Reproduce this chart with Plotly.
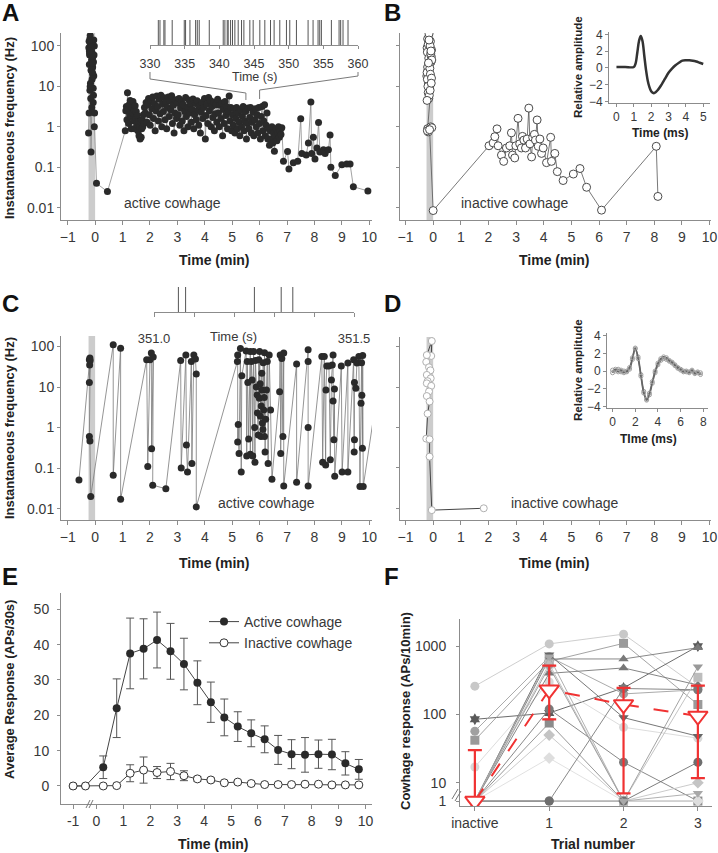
import math
import plotly.graph_objects as go

# ---------------- data ----------------
stim_window = [-0.24, 0.0]          # cowhage application period (min)
time_ticks = list(range(-1, 11))
log_ticks = [0.01, 0.1, 1, 10, 100]
log_labels = ["0.01", "0.1", "1", "10", "100"]

# Panel A: active cowhage, (time min, instantaneous frequency Hz)
A_burst = [(-0.24, 0.7), (-0.22, 2.2), (-0.20, 60), (-0.23, 90), (-0.19, 150), (-0.21, 35), (-0.17, 110),
           (-0.15, 25), (-0.18, 180), (-0.13, 45), (-0.16, 80), (-0.11, 15), (-0.14, 120), (-0.09, 30),
           (-0.12, 70), (-0.07, 9), (-0.10, 50), (-0.05, 140), (-0.08, 20), (-0.03, 100), (-0.06, 40),
           (-0.20, 65), (-0.17, 12), (-0.14, 85), (-0.11, 28), (-0.08, 55), (-0.05, 18), (-0.22, 130),
           (-0.19, 8), (-0.16, 5), (-0.13, 95), (-0.10, 22), (-0.07, 4), (-0.04, 60), (-0.21, 75),
           (-0.18, 10), (-0.15, 0.24), (-0.12, 3), (-0.09, 38), (-0.06, 6), (-0.03, 1.0), (-0.02, 2.2),
           (0.05, 0.04), (0.45, 0.025)]
A_resp = [(1.10, 0.8), (1.12, 2.5), (1.14, 3.2), (1.16, 1.5), (1.18, 7.0), (1.20, 2.8), (1.22, 1.2), (1.24, 3.5),
          (1.26, 2.0), (1.28, 4.5), (1.30, 1.8), (1.32, 0.9), (1.34, 3.0), (1.36, 2.2), (1.38, 4.2), (1.40, 1.4),
          (1.42, 2.6), (1.44, 0.9), (1.46, 3.3), (1.48, 1.7), (1.50, 2.4), (1.52, 1.1), (1.54, 1.9), (1.56, 0.8),
          (1.58, 1.3), (1.60, 0.6), (1.62, 1.0), (1.64, 0.5), (1.66, 1.4), (1.68, 0.55), (1.70, 0.9), (1.72, 1.5),
          (1.74, 1.0), (1.76, 2.0), (1.78, 1.2), (1.80, 3.0),
          (1.83, 2.2), (1.86, 4.0), (1.89, 1.3), (1.92, 3.5), (1.95, 5.0), (1.98, 2.0), (2.01, 1.1), (2.04, 4.5),
          (2.07, 2.8), (2.10, 5.5), (2.13, 1.6), (2.16, 3.8), (2.19, 0.8), (2.22, 2.5), (2.25, 5.8), (2.28, 3.2),
          (2.31, 1.4), (2.34, 4.8), (2.37, 2.1), (2.40, 6.0), (2.43, 1.0), (2.46, 3.6), (2.49, 2.4), (2.52, 5.2),
          (2.55, 1.5), (2.58, 4.1), (2.61, 0.9), (2.64, 3.0), (2.67, 5.5), (2.70, 1.8), (2.73, 4.4), (2.76, 2.6),
          (2.79, 5.9), (2.82, 1.2), (2.85, 3.4), (2.88, 0.7), (2.91, 2.2), (2.94, 4.7), (2.97, 1.6), (3.00, 3.9),
          (3.03, 2.0), (3.06, 5.0), (3.09, 1.1), (3.12, 2.9), (3.15, 4.3), (3.18, 1.4), (3.21, 3.5), (3.24, 0.8),
          (3.27, 2.4), (3.30, 5.3), (3.33, 1.8), (3.36, 3.1), (3.39, 1.0), (3.42, 4.6), (3.45, 2.2), (3.48, 3.7),
          (3.51, 1.3), (3.54, 2.7), (3.57, 4.9), (3.60, 0.9), (3.63, 2.0), (3.66, 3.8), (3.69, 1.5), (3.72, 4.4),
          (3.75, 2.6), (3.78, 1.1), (3.81, 3.3), (3.84, 0.7), (3.87, 2.3), (3.90, 4.0), (3.93, 1.6), (3.96, 3.0),
          (3.99, 5.0), (4.02, 0.5), (4.05, 1.9), (4.08, 3.6), (4.11, 1.2), (4.14, 5.3), (4.17, 2.5), (4.20, 4.5),
          (4.23, 1.0), (4.26, 3.2), (4.29, 1.7), (4.32, 4.1), (4.35, 0.8), (4.38, 2.1), (4.41, 3.5), (4.44, 1.3),
          (4.47, 4.8), (4.50, 2.2), (4.53, 1.0), (4.56, 3.4), (4.59, 1.6), (4.62, 3.9), (4.65, 0.6), (4.68, 2.7),
          (4.71, 1.2), (4.74, 4.2), (4.77, 1.9), (4.80, 3.1), (4.83, 0.9), (4.86, 2.4), (4.89, 5.8), (4.92, 1.4),
          (4.95, 3.0), (4.98, 0.8),
          (5.01, 2.0), (5.04, 1.1), (5.07, 2.8), (5.10, 0.7), (5.13, 1.6), (5.16, 3.0), (5.19, 0.9), (5.22, 2.2),
          (5.25, 1.3), (5.28, 0.6), (5.31, 2.6), (5.34, 1.0), (5.37, 1.8), (5.40, 3.2), (5.43, 0.8), (5.46, 1.4),
          (5.49, 2.4), (5.52, 0.5), (5.55, 1.2), (5.58, 2.9), (5.61, 0.9), (5.64, 1.7), (5.67, 3.0), (5.70, 0.7),
          (5.73, 1.3), (5.76, 2.3), (5.79, 0.6), (5.82, 1.5), (5.85, 2.8), (5.88, 1.0), (5.91, 2.0), (5.94, 0.7),
          (5.97, 3.0), (6.00, 1.2), (6.03, 0.5), (6.06, 1.8), (6.09, 3.2), (6.12, 0.8), (6.15, 1.4), (6.18, 3.5),
          (6.21, 0.6), (6.24, 1.1), (6.27, 2.2), (6.30, 0.5), (6.33, 0.9),
          (6.36, 0.35), (6.39, 0.8), (6.42, 0.5), (6.45, 1.0), (6.48, 0.4), (6.51, 0.7), (6.54, 0.25), (6.57, 0.6),
          (6.60, 0.9), (6.63, 0.45), (6.66, 0.7), (6.69, 1.0), (6.72, 0.55), (6.75, 0.8), (6.78, 0.65), (6.81, 0.95)]
A_tail = [(6.87, 0.14), (7.02, 0.245), (7.07, 0.09), (7.23, 0.13), (7.39, 0.14), (7.50, 1.58), (7.54, 0.22),
          (7.70, 0.2), (7.78, 0.4), (7.87, 4.1), (7.90, 0.22), (7.96, 0.55), (8.02, 0.16), (8.09, 0.3),
          (8.15, 1.28), (8.20, 0.24), (8.33, 0.27), (8.39, 0.22), (8.51, 0.27), (8.57, 0.63), (8.60, 0.1),
          (8.76, 0.063), (9.00, 0.115), (9.18, 0.12), (9.30, 0.12), (9.42, 0.033), (9.95, 0.026)]
A_raster_s = [331.2, 331.44, 332.0, 332.16, 333.2, 334.94, 335.13, 335.76, 336.58, 336.82, 337.1, 338.55,
              340.56, 340.8, 341.14, 341.28, 341.62, 341.9, 342.24, 342.72, 343.2, 343.54, 344.4, 344.88,
              345.84, 346.56, 347.38, 347.9, 348.72, 349.68, 350.16, 351.12, 352.8, 353.52, 354.24, 354.48,
              354.72, 356.16, 357.27, 357.5, 357.84, 358.56]
A_raster_ticks = [330, 335, 340, 345, 350, 355, 360]

# Panel B: inactive cowhage
B_burst = [(-0.20, 150), (-0.15, 200), (-0.22, 90), (-0.12, 60), (-0.18, 110), (-0.08, 40), (-0.21, 70),
           (-0.14, 35), (-0.10, 130), (-0.19, 25), (-0.06, 80), (-0.16, 50), (-0.23, 18), (-0.11, 100),
           (-0.17, 12), (-0.07, 55), (-0.20, 30), (-0.13, 9), (-0.09, 65), (-0.22, 22), (-0.15, 140),
           (-0.05, 45), (-0.18, 7), (-0.12, 28), (-0.21, 15), (-0.08, 75), (-0.16, 5), (-0.19, 10),
           (-0.10, 20), (-0.14, 6), (-0.06, 16), (-0.22, 4.5), (-0.17, 38), (-0.11, 8), (-0.07, 12),
           (-0.20, 0.9), (-0.09, 1.0), (-0.18, 0.75), (-0.21, 0.8), (-0.05, 0.95), (-0.13, 0.85)]
B_resp = [(0.0, 0.0085), (2.02, 0.34), (2.17, 0.40), (2.23, 0.57), (2.31, 0.89), (2.35, 0.34), (2.47, 0.20),
          (2.55, 0.14), (2.65, 0.30), (2.77, 0.34), (2.83, 0.71), (2.87, 0.20), (2.95, 0.17), (2.99, 0.34),
          (3.07, 1.62), (3.13, 0.38), (3.19, 0.30), (3.23, 0.58), (3.28, 0.47), (3.34, 0.30), (3.40, 0.50),
          (3.46, 2.9), (3.50, 0.38), (3.56, 0.18), (3.60, 0.55), (3.66, 0.65), (3.70, 0.47), (3.76, 1.48),
          (3.80, 0.33), (3.86, 0.50), (3.92, 0.22), (3.98, 0.30), (4.10, 0.13), (4.25, 0.55), (4.28, 0.14),
          (4.40, 0.22), (4.49, 0.078), (4.70, 0.047), (5.07, 0.068), (5.31, 0.093), (5.55, 0.032),
          (6.09, 0.0087), (8.07, 0.33), (8.13, 0.019)]
B_wave_t = [0, 0.5, 1.0, 1.1, 1.2, 1.3, 1.4, 1.5, 1.6, 1.7, 1.8, 1.9, 2.0, 2.1, 2.2, 2.4, 2.6, 2.8, 3.0, 3.2,
            3.4, 3.6, 3.8, 4.0, 4.2, 4.4, 4.6, 4.8, 5.0]
B_wave_a = [0.1, 0.1, 0.1, 0.5, 1.8, 3.2, 3.8, 3.2, 1.5, -0.2, -1.5, -2.3, -2.8, -3.0, -3.0, -2.6, -2.0, -1.3,
            -0.6, -0.1, 0.3, 0.6, 0.85, 0.9, 0.9, 0.85, 0.75, 0.6, 0.45]

# Panel C: active cowhage, bursting unit
C_points = [(-0.59, 0.051), (-0.21, 47), (-0.19, 52), (-0.20, 35), (-0.21, 13), (-0.18, 45), (-0.21, 0.6),
            (-0.19, 0.47), (-0.16, 0.02),
            (0.66, 110), (0.66, 0.067), (0.93, 91), (0.93, 0.017),
            (1.88, 47), (1.92, 0.11), (2.00, 47), (2.05, 69), (2.06, 0.30), (2.12, 55), (2.10, 0.038), (2.58, 0.031),
            (3.12, 45), (3.14, 0.10), (3.31, 62), (3.33, 0.37), (3.37, 0.08), (3.51, 43), (3.53, 0.13), (3.60, 62),
            (3.66, 49), (3.69, 21), (3.69, 0.011),
            (5.19, 43), (5.20, 62), (5.20, 0.44), (5.22, 1.2), (5.25, 0.23), (5.30, 90), (5.33, 0.08), (5.35, 19),
            (5.51, 78), (5.53, 0.2), (5.55, 43), (5.57, 13), (5.60, 0.52), (5.66, 75), (5.66, 0.22), (5.70, 43),
            (5.73, 15), (5.75, 0.2), (5.78, 75), (5.82, 1.0), (5.83, 0.14), (5.85, 45), (5.88, 10), (5.91, 6.4),
            (5.92, 2.3), (5.95, 0.66), (5.97, 47), (5.99, 5.3), (6.00, 75), (6.02, 12), (6.03, 1.9), (6.05, 0.6),
            (6.06, 3.4), (6.08, 22), (6.09, 8.5), (6.10, 1.3), (6.12, 0.9), (6.13, 40), (6.15, 2.7), (6.17, 5.5),
            (6.18, 0.6), (6.18, 70), (6.20, 0.25), (6.22, 1.6), (6.25, 8.5), (6.28, 43), (6.31, 0.13), (6.35, 62),
            (6.40, 2.7), (6.45, 0.053),
            (6.73, 7.7), (6.75, 62), (6.77, 0.23), (6.81, 51), (6.85, 0.6), (6.88, 69), (6.88, 0.036),
            (7.35, 37), (7.35, 0.045),
            (7.77, 83), (7.77, 43), (7.77, 1.0), (7.77, 0.036),
            (8.27, 57), (8.30, 0.14), (8.36, 57), (8.41, 0.12), (8.42, 8.5), (8.45, 33), (8.53, 33), (8.58, 0.16),
            (8.62, 15), (8.65, 35), (8.68, 62), (8.68, 4.5), (8.71, 0.5), (8.73, 9), (8.74, 0.063),
            (8.98, 33), (9.01, 0.08), (9.22, 39), (9.22, 0.08),
            (9.43, 47), (9.45, 0.25), (9.46, 0.5), (9.46, 13), (9.51, 9.4), (9.55, 39), (9.62, 57), (9.66, 0.035),
            (9.70, 4.0), (9.72, 40), (9.73, 6.3), (9.75, 0.31), (9.76, 60), (9.78, 0.035), (10.3, 8)]
C_raster_s = [351.061, 351.079, 351.251, 351.318, 351.347]
C_raster_ticks = [351.0, 351.1, 351.2, 351.3, 351.4, 351.5]
C_raster_labels = ["351.0", "", "", "", "", "351.5"]

# Panel D: inactive cowhage
D_points = [(-0.07, 59), (-0.05, 138), (-0.23, 62), (-0.25, 42), (-0.15, 31), (-0.10, 26), (-0.23, 20),
            (-0.09, 16.5), (-0.20, 14), (-0.23, 12.4), (-0.07, 10.7), (-0.15, 7.8), (-0.23, 6.0), (-0.13, 4.4),
            (-0.20, 2.2), (-0.25, 0.53), (-0.13, 0.51), (-0.13, 0.19), (-0.05, 0.009), (1.83, 0.01)]
D_wave_t = [0, 0.25, 0.5, 0.75, 1.0, 1.25, 1.5, 1.75, 2.0, 2.25, 2.5, 2.75, 3.0, 3.25, 3.5, 3.75, 4.0, 4.25,
            4.5, 4.75, 5.0, 5.25, 5.5, 5.75, 6.0, 6.25, 6.5, 6.75, 7.0, 7.25, 7.5, 7.75]
D_wave_a1 = [0.1, 0.0, 0.2, -0.1, 0.0, -0.1, 0.2, 1.3, 2.5, 1.6, -0.4, -2.3, -3.3, -2.7, -1.4, -0.2, 0.7, 1.2,
             1.4, 1.3, 1.1, 0.9, 0.6, 0.3, 0.1, 0.0, -0.1, -0.1, 0.0, -0.2, -0.2, -0.2]
D_wave_a2 = [-0.2, 0.2, -0.1, 0.1, -0.2, 0.0, 0.4, 1.5, 2.6, 1.4, -0.6, -2.5, -3.2, -2.5, -1.2, 0.0, 0.9, 1.4,
             1.6, 1.5, 1.2, 1.0, 0.7, 0.4, 0.2, -0.1, 0.0, -0.2, 0.1, -0.3, -0.1, -0.4]

# Panel E: average response per 30 s bin
E_t = [-1, -0.5, 0.25, 0.75, 1.25, 1.75, 2.25, 2.75, 3.25, 3.75, 4.25, 4.75, 5.25, 5.75, 6.25, 6.75, 7.25,
       7.75, 8.25, 8.75, 9.25, 9.75]
E_active = [0, 0, 5.3, 22.0, 37.5, 38.8, 41.3, 38.1, 34.5, 29.2, 23.7, 19.4, 16.8, 14.9, 13.2, 10.2, 9.0, 8.8,
            9.0, 8.9, 6.4, 4.7]
E_active_sem = [0, 0, 3.2, 8.3, 10.0, 8.5, 7.9, 7.9, 7.3, 6.2, 5.7, 5.2, 4.2, 3.8, 3.8, 4.1, 4.1, 4.9, 4.0,
                4.3, 3.3, 2.8]
E_inactive = [0, 0, 0, 0.1, 3.6, 4.5, 3.8, 4.1, 2.9, 2.0, 1.7, 0.9, 1.1, 0.7, 0.4, 0.4, 0.4, 0.5, 0.5, 0.3,
              0.3, 0.3]
E_inactive_sem = [0, 0, 0, 0, 2.4, 3.7, 1.7, 2.3, 1.4, 0.6, 0.5, 0.3, 0.3, 0.2, 0.2, 0.2, 0.2, 0.2, 0.2, 0.2,
                  0.2, 0.2]
E_yticks = [0, 10, 20, 30, 40, 50]

# Panel F: response per trial (APs/10 min), each unit a row; 1 = no response
F_labels = ["inactive", "1", "2", "3"]
F_units = [[260, 1080, 1500, 250], [85, 105, 245, 1000], [57, 700, 200, 230], [42, 600, 1100, 140],
           [17, 300, 65, 45], [1, 750, 90, 48], [1, 650, 650, 950], [1, 400, 480, 270], [1, 120, 20, 1],
           [1, 75, 1, 1], [1, 50, 1, 10], [1, 23, 1, 1], [1, 1, 240, 230], [1, 550, 1, 350],
           [1, 500, 1, 500], [1, 1, 1, 20], [1, 700, 1, 7]]
F_mean = [1, 230, 140, 95]
F_hi = [30, 520, 245, 265]
F_lo = [1, 85, 7, 11.7]
F_yticks = [10, 100, 1000]

# ---------------- styles ----------------
F_symbols = ["circle", "hexagram", "circle", "square", "circle", "triangle-down", "triangle-up", "triangle-up",
             "circle", "square", "diamond", "diamond", "circle", "square", "triangle-down", "circle",
             "triangle-down"]
F_colors = ["#c8c8c8", "#5a5a5a", "#a0a0a0", "#9a9a9a", "#d8d8d8", "#666666", "#7a7a7a", "#777777", "#7a7a7a",
            "#8c8c8c", "#c4c4c4", "#dedede", "#7a7a7a", "#bdbdbd", "#999999", "#6e6e6e", "#a8a8a8"]

W, H = 718, 853
FONT = "Liberation Sans, Arial, sans-serif"
AX = "#8c8c8c"
TXT = "#383838"
RED = "#f03232"


def dx(a, b):
    return [a / W, b / W]


def dy(top, bot):
    return [1 - bot / H, 1 - top / H]


def fx(p):
    return p / W


def fy(p):
    return 1 - p / H


def base(**kw):
    d = dict(showline=True, linecolor=AX, linewidth=1, ticks="outside", ticklen=4, tickwidth=1, tickcolor=AX,
             tickfont=dict(size=14, color=TXT, family=FONT), showgrid=False, zeroline=False, fixedrange=True,
             automargin=False)
    d.update(kw)
    return d


def e_pos(t):
    # axis break in panel E: the pre-stimulus minute is drawn compressed
    return t if t >= 0 else -0.41 + (t + 0.5) * 0.92


F_ZERO_POS = 5.4


def f_pos(v):
    # broken log axis in panel F: "1" (no response) sits just below 10
    return F_ZERO_POS if v <= 1 else v


def unzip(pts):
    return [p[0] for p in pts], [p[1] for p in pts]


def raster(times):
    xs, ys = [], []
    for t in times:
        xs += [t, t, None]
        ys += [0, 1, None]
    return xs, ys


fig = go.Figure()

# Panel A
ax_t, ax_f = unzip(A_burst + A_resp + A_tail)
fig.add_trace(go.Scatter(x=ax_t, y=ax_f, mode="lines+markers", xaxis="x", yaxis="y", showlegend=False,
                         line=dict(color="#8a8a8a", width=0.8),
                         marker=dict(color="#2a2a2a", size=7, line=dict(width=0))))
rx, ry = raster(A_raster_s)
fig.add_trace(go.Scatter(x=rx, y=ry, mode="lines", xaxis="x7", yaxis="y7", showlegend=False,
                         line=dict(color="#555555", width=1)))

# Panel B
bx, by = unzip(B_burst + B_resp)
fig.add_trace(go.Scatter(x=bx, y=by, mode="lines+markers", xaxis="x2", yaxis="y2", showlegend=False,
                         line=dict(color="#555555", width=0.8),
                         marker=dict(color="white", size=8, line=dict(color="#4a4a4a", width=1))))
fig.add_trace(go.Scatter(x=B_wave_t, y=B_wave_a, mode="lines", xaxis="x8", yaxis="y8", showlegend=False,
                         line=dict(color="#333333", width=2.5, shape="spline")))

# Panel C
cx, cy = unzip(C_points)
fig.add_trace(go.Scatter(x=cx, y=cy, mode="lines+markers", xaxis="x3", yaxis="y3", showlegend=False,
                         line=dict(color="#7a7a7a", width=0.8),
                         marker=dict(color="#2a2a2a", size=7, line=dict(width=0))))
rx, ry = raster(C_raster_s)
fig.add_trace(go.Scatter(x=rx, y=ry, mode="lines", xaxis="x9", yaxis="y9", showlegend=False,
                         line=dict(color="#555555", width=1)))

# Panel D
ddx, ddy = unzip(D_points)
fig.add_trace(go.Scatter(x=ddx, y=ddy, mode="lines+markers", xaxis="x4", yaxis="y4", showlegend=False,
                         line=dict(color="#444444", width=1),
                         marker=dict(color="white", size=7, line=dict(color="#b0b0b0", width=1))))
for amp in (D_wave_a1, D_wave_a2):
    fig.add_trace(go.Scatter(x=D_wave_t, y=amp, mode="lines+markers", xaxis="x10", yaxis="y10",
                             showlegend=False, line=dict(color="#666666", width=1.5, shape="spline"),
                             marker=dict(symbol="circle-open", size=4, color="#a0a0a0")))

# Panel E
ex = [e_pos(t) for t in E_t]
fig.add_trace(go.Scatter(x=ex, y=E_active, mode="lines+markers", xaxis="x5", yaxis="y5", name="Active cowhage",
                         line=dict(color="#444444", width=1),
                         marker=dict(color="#2a2a2a", size=8, line=dict(width=0)),
                         error_y=dict(type="data", array=E_active_sem, color="#555555", thickness=1, width=4)))
fig.add_trace(go.Scatter(x=ex, y=E_inactive, mode="lines+markers", xaxis="x5", yaxis="y5",
                         name="Inactive cowhage", line=dict(color="#444444", width=1),
                         marker=dict(color="white", size=8, line=dict(color="#333333", width=1)),
                         error_y=dict(type="data", array=E_inactive_sem, color="#555555", thickness=1, width=4)))

# Panel F
F_x = list(range(len(F_labels)))
for vals, sym, col in zip(F_units, F_symbols, F_colors):
    fig.add_trace(go.Scatter(x=F_x, y=[f_pos(v) for v in vals], mode="lines+markers", xaxis="x6", yaxis="y6",
                             showlegend=False, line=dict(color=col, width=0.9),
                             marker=dict(symbol=sym, color=col, size=9, line=dict(width=0))))
fm = [f_pos(v) for v in F_mean]
fig.add_trace(go.Scatter(x=F_x, y=fm, mode="lines+markers", xaxis="x6", yaxis="y6", showlegend=False,
                         line=dict(color=RED, width=2, dash="longdash"),
                         marker=dict(symbol="triangle-down", size=17, color="white", line=dict(color=RED, width=2)),
                         error_y=dict(type="data", symmetric=False,
                                      array=[f_pos(h) - m for h, m in zip(F_hi, fm)],
                                      arrayminus=[m - f_pos(lo) for lo, m in zip(F_lo, fm)],
                                      color=RED, thickness=2.2, width=7)))

# ---------------- layout ----------------
A_XR = [-1.245, 10.1]
BD_XR = [-1.2, 10.05]
lay = dict(
    xaxis=base(domain=dx(61, 372), range=A_XR, tickvals=time_ticks, anchor="y"),
    yaxis=base(domain=dy(33, 220), type="log", range=[-2.304, 2.32], tickvals=log_ticks, ticktext=log_labels,
               ticklen=3, anchor="x"),
    xaxis2=base(domain=dx(400, 711), range=BD_XR, tickvals=time_ticks, anchor="y2"),
    yaxis2=base(domain=dy(33, 220), type="log", range=[-2.304, 2.32], tickvals=log_ticks, showticklabels=False,
                ticklen=3, anchor="x2"),
    xaxis3=base(domain=dx(61, 372), range=A_XR, tickvals=time_ticks, anchor="y3"),
    yaxis3=base(domain=dy(336, 520), type="log", range=[-2.28, 2.26], tickvals=log_ticks, ticktext=log_labels,
                ticklen=3, anchor="x3"),
    xaxis4=base(domain=dx(400, 711), range=BD_XR, tickvals=time_ticks, anchor="y4"),
    yaxis4=base(domain=dy(337, 520), type="log", range=[-2.29, 2.24], tickvals=log_ticks, showticklabels=False,
                ticklen=3, anchor="x4"),
    xaxis5=base(domain=dx(61, 372), range=[-1.32, 10.24], tickvals=[e_pos(-1)] + list(range(0, 11)),
                ticktext=[str(v) for v in time_ticks], anchor="y5"),
    yaxis5=base(domain=dy(593, 804), range=[-5.1, 54.6], tickvals=E_yticks, ticklen=3, ticklabelstandoff=5,
                anchor="x5"),
    xaxis6=base(domain=dx(460, 712), range=[-0.2, 3.19], tickvals=F_x, ticktext=F_labels, anchor="y6"),
    yaxis6=base(domain=dy(619, 806), type="log", range=[math.log10(4.57), math.log10(2500)],
                tickvals=[F_ZERO_POS] + F_yticks, ticktext=["1"] + [str(v) for v in F_yticks], ticklen=3,
                ticklabelstandoff=7, anchor="x6"),
    xaxis7=base(domain=dx(150, 358), range=[330, 360], tickvals=A_raster_ticks, ticklen=3,
                tickfont=dict(size=12.5, color=TXT, family=FONT), ticklabelstandoff=4, anchor="y7"),
    yaxis7=dict(domain=dy(20, 45), range=[0, 1], visible=False, fixedrange=True, anchor="x7"),
    xaxis8=base(domain=dx(609, 710), range=[-0.43, 5.39], tickvals=[0, 1, 2, 3, 4, 5], ticklen=3,
                tickfont=dict(size=12, color=TXT, family=FONT), anchor="y8"),
    yaxis8=base(domain=dy(31.7, 103), range=[-4.2, 4.31], tickvals=[-4, -2, 0, 2, 4], ticklen=3,
                tickfont=dict(size=12, color=TXT, family=FONT), anchor="x8"),
    xaxis9=base(domain=dx(154, 354), range=[351.0, 351.5], tickvals=C_raster_ticks, ticktext=C_raster_labels,
                ticklen=4, tickfont=dict(size=13, color=TXT, family=FONT), ticklabelstandoff=10, anchor="y9"),
    yaxis9=dict(domain=dy(287, 312), range=[0, 1], visible=False, fixedrange=True, anchor="x9"),
    xaxis10=base(domain=dx(607, 708), range=[-0.49, 8.41], tickvals=[0, 2, 4, 6, 8], ticklen=3,
                 tickfont=dict(size=12, color=TXT, family=FONT), anchor="y10"),
    yaxis10=base(domain=dy(333, 407.5), range=[-4.13, 4.3], tickvals=[-4, -2, 0, 2, 4], ticklen=3,
                 tickfont=dict(size=12, color=TXT, family=FONT), anchor="x10"),
)


def px_of(v, rng, dom):
    return dom[0] + (v - rng[0]) / (rng[1] - rng[0]) * (dom[1] - dom[0])


shapes = []
for xr in ("x", "x2", "x3", "x4"):
    shapes.append(dict(type="rect", xref=xr, yref=xr.replace("x", "y") + " domain", x0=stim_window[0],
                       x1=stim_window[1], y0=0, y1=1, fillcolor="#cccccc", line=dict(width=0), layer="below"))

# zoom brackets linking the raster inset (330-360 s) to panel A (5.5-6.0 min)
lx_top = px_of(A_raster_ticks[0], [330, 360], [150, 358])
rx_top = px_of(A_raster_ticks[-1], [330, 360], [150, 358])
lx_bot = px_of(A_raster_ticks[0] / 60, A_XR, [61, 372])
rx_bot = px_of(A_raster_ticks[-1] / 60, A_XR, [61, 372])
for pts in ([(lx_top, 72), (lx_top, 79), (lx_bot, 93), (lx_bot, 100)],
            [(rx_top, 72), (rx_top, 76), (rx_bot, 90), (rx_bot, 99)]):
    path = "M " + " L ".join(f"{fx(a):.5f},{fy(b):.5f}" for a, b in pts)
    shapes.append(dict(type="path", xref="paper", yref="paper", path=path, line=dict(color="#7a7a7a", width=1)))

# axis-break marks
for (x0, y0, x1, y1) in [(86, 808, 90, 800), (89, 808, 93, 800),
                         (452, 799, 458, 789), (455, 801, 461, 791)]:
    shapes.append(dict(type="line", xref="paper", yref="paper", x0=fx(x0), y0=fy(y0), x1=fx(x1), y1=fy(y1),
                       line=dict(color="#777777", width=1)))


def txt(text, x, y, size=14, bold=False, angle=0, color=TXT):
    return dict(text=f"<b>{text}</b>" if bold else text, x=fx(x), y=fy(y), xref="paper", yref="paper",
                showarrow=False, xanchor="center", yanchor="middle", textangle=angle,
                font=dict(size=size, color=color, family=FONT))


annotations = [
    txt("A", 10, 12, 24, True, color="#111"), txt("B", 393, 12, 24, True, color="#111"),
    txt("C", 10, 303, 24, True, color="#111"), txt("D", 393, 303, 24, True, color="#111"),
    txt("E", 10, 576, 24, True, color="#111"), txt("F", 391, 576, 24, True, color="#111"),
    txt("Instantaneous frequency (Hz)", 9, 128, 13, True, -90, "#222"),
    txt("Instantaneous frequency (Hz)", 9, 428, 13, True, -90, "#222"),
    txt("Average Response (APs/30s)", 9, 690, 13, True, -90, "#222"),
    txt("Cowhage response (APs/10min)", 405, 711, 13, True, -90, "#222"),
    txt("Time (min)", 215, 260, 14, True, color="#222"), txt("Time (min)", 554, 260, 14, True, color="#222"),
    txt("Time (min)", 214, 563, 14, True, color="#222"), txt("Time (min)", 554, 563, 14, True, color="#222"),
    txt("Time (min)", 213, 844, 14, True, color="#222"), txt("Trial number", 593, 844, 14, True, color="#222"),
    txt("active cowhage", 172, 203), txt("inactive cowhage", 515, 203),
    txt("active cowhage", 266, 503), txt("inactive cowhage", 565, 503),
    txt("Time (s)", 254, 77, 12.5), txt("Time (s)", 233, 336, 13),
    txt("Relative amplitude", 578, 67, 11.5, True, -90, "#222"), txt("Time (ms)", 660, 133, 12, True, color="#222"),
    txt("Relative amplitude", 578, 370, 11.5, True, -90, "#222"), txt("TIme (ms)", 648, 439, 12, True, color="#222"),
]

fig.update_layout(
    template="none",
    width=W, height=H, autosize=False, margin=dict(l=0, r=0, t=0, b=0, pad=0),
    paper_bgcolor="white", plot_bgcolor="white", font=dict(family=FONT, color=TXT),
    shapes=shapes, annotations=annotations,
    legend=dict(x=fx(204), y=fy(606), xanchor="left", yanchor="top", bgcolor="rgba(0,0,0,0)",
                font=dict(size=14, color=TXT, family=FONT), itemwidth=30, tracegroupgap=0),
    **lay,
)

# remove the browser's default 8px page margin so the figure fills the window exactly
fig.write_html("out.html", config={"displayModeBar": False},
               post_script="document.body.style.margin='0';document.body.style.overflow='hidden';")
